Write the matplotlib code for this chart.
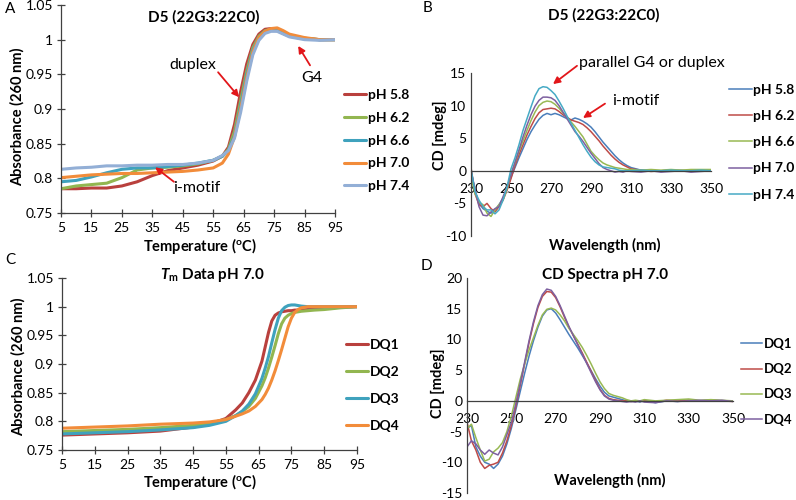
import numpy as np
import matplotlib
matplotlib.use('Agg')
import matplotlib.pyplot as plt
from matplotlib.ticker import FuncFormatter

plt.rcParams['font.family'] = ['Lato', 'DejaVu Sans']
plt.rcParams['axes.unicode_minus'] = False
plt.rcParams['mathtext.fontset'] = 'custom'
plt.rcParams['mathtext.rm'] = 'Lato'
plt.rcParams['mathtext.it'] = 'Lato:italic:bold'
plt.rcParams['mathtext.bf'] = 'Lato:bold'

#------- A: melting curves D5 at different pH
temp_a = [5, 10, 15, 20, 25, 30, 35, 40, 45, 50, 55, 58, 60, 62, 64, 66, 68, 70, 72, 74, 76, 78, 80, 85, 90, 95]
ph_labels = ['pH 5.8', 'pH 6.2', 'pH 6.6', 'pH 7.0', 'pH 7.4']
abs_ph58 = [0.785, 0.785, 0.786, 0.786, 0.789, 0.795, 0.804, 0.811, 0.815, 0.819, 0.825, 0.832, 0.845, 0.878, 0.925, 0.965, 0.993, 1.008, 1.015, 1.016, 1.013, 1.009, 1.006, 1.002, 1.000, 1.000]
abs_ph62 = [0.785, 0.789, 0.791, 0.793, 0.801, 0.812, 0.815, 0.816, 0.818, 0.821, 0.826, 0.832, 0.842, 0.868, 0.912, 0.955, 0.988, 1.005, 1.013, 1.015, 1.014, 1.010, 1.006, 1.002, 1.000, 1.000]
abs_ph66 = [0.795, 0.797, 0.802, 0.808, 0.813, 0.815, 0.815, 0.817, 0.819, 0.822, 0.826, 0.832, 0.840, 0.862, 0.905, 0.950, 0.985, 1.003, 1.012, 1.014, 1.013, 1.009, 1.005, 1.001, 1.000, 1.000]
abs_ph70 = [0.801, 0.803, 0.805, 0.806, 0.807, 0.807, 0.808, 0.809, 0.810, 0.812, 0.815, 0.822, 0.835, 0.860, 0.900, 0.945, 0.982, 1.003, 1.012, 1.016, 1.017, 1.013, 1.008, 1.003, 1.000, 1.000]
abs_ph74 = [0.813, 0.815, 0.816, 0.818, 0.818, 0.819, 0.819, 0.820, 0.820, 0.822, 0.826, 0.833, 0.840, 0.858, 0.895, 0.940, 0.978, 0.999, 1.009, 1.012, 1.012, 1.008, 1.004, 1.000, 0.999, 1.000]

#------- B: CD spectra D5 at different pH
wl = [230, 232, 234, 236, 238, 240, 242, 244, 246, 248, 250, 252, 254, 256, 258, 260, 262, 264, 266, 268,
      270, 272, 274, 276, 278, 280, 282, 284, 286, 288, 290, 292, 294, 296, 298, 300, 302, 304, 306, 308,
      310, 315, 320, 325, 330, 335, 340, 345, 350]
cd_ph58 = [0.0, -3.0, -5.0, -5.8, -6.2, -6.5, -6.0, -5.2, -4.2, -2.8, -1.0, 0.5, 2.0, 3.4, 4.8, 6.0, 7.0, 7.9, 8.5, 8.8,
           8.6, 8.8, 8.6, 8.3, 8.0, 7.8, 8.1, 7.9, 7.6, 7.2, 6.7, 6.0, 5.2, 4.4, 3.7, 3.0, 2.3, 1.7, 1.2, 0.8,
           0.5, 0.1, 0.1, -0.1, 0.0, 0.1, 0.0, 0.1, 0.0]
cd_ph62 = [0.5, -3.5, -5.2, -5.5, -5.0, -5.8, -6.3, -5.5, -4.5, -3.0, -1.2, 0.8, 2.5, 4.0, 5.5, 6.8, 8.0, 8.9, 9.4, 9.5,
           9.6, 9.5, 9.1, 8.6, 8.2, 7.8, 7.6, 7.4, 7.1, 6.6, 6.0, 5.3, 4.6, 3.8, 3.1, 2.4, 1.8, 1.3, 0.9, 0.6,
           0.3, 0.1, -0.1, 0.0, 0.1, 0.0, -0.1, 0.0, 0.1]
cd_ph66 = [-1.0, -3.5, -4.8, -5.2, -6.5, -7.0, -6.0, -5.2, -4.5, -2.8, -0.4, 1.2, 3.0, 4.6, 6.2, 7.7, 9.0, 10.0, 10.5, 10.7,
           10.6, 10.2, 9.6, 8.9, 8.2, 7.5, 6.8, 6.0, 5.2, 4.1, 3.0, 2.3, 1.7, 1.2, 0.9, 0.7, 0.5, 0.4, 0.3, 0.2,
           0.2, 0.1, 0.2, 0.1, 0.2, 0.1, 0.2, 0.2, 0.2]
cd_ph70 = [0.0, -2.8, -5.5, -6.8, -6.9, -6.3, -5.8, -5.5, -4.0, -2.5, -0.6, 1.3, 3.2, 5.2, 7.0, 8.6, 9.9, 10.8, 11.3, 11.3,
           11.2, 10.8, 10.0, 9.0, 8.0, 7.0, 6.0, 5.3, 4.5, 3.6, 2.7, 1.9, 1.1, 0.5, 0.2, 0.0, -0.2, -0.1, -0.2, 0.0,
           -0.1, -0.2, 0.0, -0.2, -0.1, 0.0, -0.2, -0.1, 0.0]
cd_ph74 = [0.3, -3.2, -4.5, -5.5, -6.0, -6.0, -6.6, -6.0, -4.5, -2.5, 0.3, 2.0, 4.0, 6.2, 8.0, 9.8, 11.5, 12.6, 12.9, 12.8,
           12.3, 11.7, 10.7, 9.6, 8.4, 7.3, 6.2, 5.1, 4.0, 3.0, 2.1, 1.4, 0.9, 0.6, 0.5, 0.4, 0.3, 0.1, 0.0, 0.0,
           0.0, 0.1, 0.0, 0.0, 0.1, 0.0, 0.0, 0.1, 0.0]

#------- C: melting curves pH 7.0
temp_c = [5, 15, 25, 35, 45, 50, 55, 58, 60, 62, 64, 66, 67, 68, 69, 70, 71, 72, 73, 74, 75, 76, 77, 78, 80, 82, 85, 90, 95]
dq_labels = ['DQ1', 'DQ2', 'DQ3', 'DQ4']
abs_dq1 = [0.776, 0.778, 0.780, 0.783, 0.790, 0.795, 0.805, 0.820, 0.832, 0.850, 0.872, 0.905, 0.930, 0.955, 0.975, 0.985, 0.989, 0.991, 0.992, 0.993, 0.993, 0.994, 0.994, 0.994, 0.995, 0.996, 0.997, 0.999, 1.000]
abs_dq2 = [0.782, 0.784, 0.786, 0.789, 0.793, 0.797, 0.803, 0.810, 0.817, 0.826, 0.840, 0.862, 0.876, 0.893, 0.912, 0.932, 0.953, 0.970, 0.980, 0.985, 0.988, 0.990, 0.991, 0.992, 0.993, 0.994, 0.995, 0.998, 1.000]
abs_dq3 = [0.778, 0.780, 0.782, 0.785, 0.789, 0.793, 0.800, 0.810, 0.818, 0.830, 0.848, 0.875, 0.893, 0.913, 0.937, 0.960, 0.980, 0.993, 0.999, 1.002, 1.003, 1.003, 1.002, 1.001, 1.000, 1.000, 1.000, 1.000, 1.000]
abs_dq4 = [0.788, 0.790, 0.792, 0.795, 0.797, 0.799, 0.803, 0.809, 0.813, 0.818, 0.826, 0.838, 0.847, 0.858, 0.872, 0.888, 0.906, 0.925, 0.945, 0.965, 0.980, 0.990, 0.995, 0.998, 1.000, 1.000, 1.000, 1.000, 1.000]

#------- D: CD spectra pH 7.0
cd_dq1 = [-4.5, -4.0, -7.5, -9.0, -10.0, -10.3, -11.0, -10.3, -9.0, -7.0, -4.5, -1.5, 1.5, 4.5, 7.3, 9.8, 12.0, 13.8, 14.8, 15.0,
          14.3, 13.2, 12.0, 10.8, 9.7, 8.6, 7.4, 6.2, 4.9, 3.6, 2.4, 1.4, 0.8, 0.6, 0.4, 0.2, 0.0, -0.1, 0.0, -0.2,
          0.1, -0.3, 0.0, -0.1, 0.1, 0.0, 0.1, 0.0, 0.0]
cd_dq2 = [-3.5, -6.5, -8.0, -10.0, -11.0, -10.5, -10.3, -10.0, -8.5, -6.5, -4.0, -1.0, 2.5, 6.0, 9.5, 12.6, 15.2, 17.0, 17.8, 17.7,
          16.8, 15.3, 13.6, 12.0, 10.6, 9.2, 7.8, 6.3, 4.8, 3.3, 1.9, 0.9, 0.4, 0.2, 0.1, 0.0, 0.0, -0.1, 0.0, -0.1,
          0.0, -0.2, 0.1, 0.0, 0.1, 0.0, 0.1, 0.0, -0.1]
cd_dq3 = [-4.5, -3.8, -6.0, -8.0, -9.8, -9.5, -8.3, -7.7, -6.8, -5.0, -2.5, 0.5, 3.5, 6.0, 8.3, 10.3, 12.3, 14.0, 14.9, 15.1,
          14.8, 14.0, 13.0, 11.8, 10.8, 9.8, 8.7, 7.4, 6.0, 4.5, 3.1, 2.0, 1.2, 0.9, 0.7, 0.5, 0.2, 0.0, 0.1, 0.0,
          0.2, 0.0, 0.1, 0.2, 0.3, 0.1, 0.2, 0.1, 0.0]
cd_dq4 = [-7.5, -6.5, -7.0, -8.0, -8.7, -8.0, -8.5, -8.8, -7.5, -5.5, -3.5, -0.5, 2.8, 6.3, 9.8, 12.9, 15.5, 17.3, 18.2, 18.0,
          17.0, 15.5, 13.8, 12.1, 10.6, 9.1, 7.6, 6.1, 4.6, 3.1, 1.8, 0.8, 0.3, 0.1, 0.0, -0.1, -0.2, -0.1, -0.2, 0.0,
          -0.2, -0.3, 0.0, -0.1, 0.0, 0.1, 0.0, 0.1, -0.1]

thick_colors = ['#B9403D', '#92B650', '#3FA2BD', '#F28C3A', '#93AFD6']
thin_colors = ['#4A7EBB', '#BE4B48', '#98B954', '#7D60A0', '#46AAC5']
arrow_red = '#E2161A'

W, H = 796, 500
fig = plt.figure(figsize=(W / 100, H / 100), dpi=100)


def px_axes(l, t, r, b):
    return fig.add_axes([l / W, 1 - b / H, (r - l) / W, (b - t) / H])


def fx(x):
    return x / W


def fy(y):
    return 1 - y / H


gfmt = FuncFormatter(lambda v, p: '%g' % round(v, 3))


def style_melt(ax):
    for s in ['top', 'right']:
        ax.spines[s].set_visible(False)
    for s in ['left', 'bottom']:
        ax.spines[s].set_color('#404040')
        ax.spines[s].set_linewidth(0.9)
    ax.set_xlim(5, 95)
    ax.set_ylim(0.75, 1.05)
    ax.set_xticks(np.arange(5, 96, 10))
    ax.set_yticks(np.arange(0.75, 1.051, 0.05))
    ax.yaxis.set_major_formatter(gfmt)
    ax.tick_params(direction='inout', length=6, width=0.9, color='#404040', labelsize=10)
    ax.tick_params(axis='x', pad=3.8)
    ax.tick_params(axis='y', pad=2.5)


def style_cd(ax, ymin, ymax):
    for s in ['top', 'right']:
        ax.spines[s].set_visible(False)
    ax.spines['bottom'].set_position(('data', 0))
    for s in ['left', 'bottom']:
        ax.spines[s].set_color('#404040')
        ax.spines[s].set_linewidth(0.9)
    ax.set_xlim(230, 350)
    ax.set_ylim(ymin, ymax)
    ax.set_xticks(np.arange(230, 351, 20))
    ax.set_yticks(np.arange(ymin, ymax + 1, 5))
    ax.tick_params(length=0, labelsize=10)
    ax.tick_params(axis='x', pad=9)


arrow_kw = dict(arrowstyle='-|>', color=arrow_red, lw=1.3, mutation_scale=10, shrinkA=0, shrinkB=0)

#------- A
ax1 = px_axes(61, 5, 335, 213)
for vals, c, lab in zip([abs_ph58, abs_ph62, abs_ph66, abs_ph70, abs_ph74], thick_colors, ph_labels):
    ax1.plot(temp_a, vals, color=c, lw=2.2, label=lab, solid_capstyle='round')
style_melt(ax1)
ax1.legend(loc='upper left', bbox_to_anchor=(fx(344), fy(89)), bbox_transform=fig.transFigure,
           frameon=False, prop={'weight': 'bold', 'size': 10}, handlelength=1.6, handletextpad=0.1,
           labelspacing=0.78, borderpad=0, borderaxespad=0)
ax1.text(48.4, 0.963, 'duplex', fontsize=11.5, ha='center', va='center')
ax1.annotate('', xy=(63.5, 0.917), xytext=(56.6, 0.953), arrowprops=arrow_kw)
ax1.text(87.5, 0.945, 'G4', fontsize=11.5, ha='center', va='center')
ax1.annotate('', xy=(82.9, 0.991), xytext=(86.8, 0.963), arrowprops=arrow_kw)
ax1.text(49.7, 0.786, 'i-motif', fontsize=11.5, ha='center', va='center')
ax1.annotate('', xy=(35.9, 0.816), xytext=(42.1, 0.795), arrowprops=arrow_kw)
fig.text(fx(204), fy(17), 'D5 (22G3:22C0)', ha='center', va='center', fontsize=11, weight='bold')
fig.text(fx(200), fy(246), r'Temperature ($\mathregular{^o}$C)', ha='center', va='center', fontsize=10.5, weight='bold')
fig.text(fx(17), fy(117), 'Absorbance (260 nm)', ha='center', va='center', rotation=90, fontsize=10.5, weight='bold')
fig.text(fx(5), fy(9), 'A', ha='left', va='center', fontsize=11)

#------- B
ax2 = px_axes(471, 73, 711, 236)
for vals, c, lab in zip([cd_ph58, cd_ph62, cd_ph66, cd_ph70, cd_ph74], thin_colors, ph_labels):
    ax2.plot(wl, vals, color=c, lw=1.1, label=lab)
style_cd(ax2, -10, 15)
ax2.legend(loc='upper left', bbox_to_anchor=(fx(729), fy(84)), bbox_transform=fig.transFigure,
           frameon=False, prop={'weight': 'bold', 'size': 10}, handlelength=1.65, handletextpad=0.1,
           labelspacing=1.02, borderpad=0, borderaxespad=0)
ax2.text(320.5, 16.6, 'parallel G4 or duplex', fontsize=11.5, ha='center', va='center', clip_on=False)
ax2.annotate('', xy=(271, 13.3), xytext=(283, 16.1), annotation_clip=False, arrowprops=arrow_kw)
ax2.text(312.5, 10.7, 'i-motif', fontsize=11.5, ha='center', va='center')
ax2.annotate('', xy=(286, 8.1), xytext=(297, 10.3), arrowprops=arrow_kw)
fig.text(fx(604), fy(15), 'D5 (22G3:22C0)', ha='center', va='center', fontsize=11, weight='bold')
fig.text(fx(605), fy(245), 'Wavelength (nm)', ha='center', va='center', fontsize=10.5, weight='bold')
fig.text(fx(440), fy(135), 'CD [mdeg]', ha='center', va='center', rotation=90, fontsize=10.5, weight='bold')
fig.text(fx(423), fy(8), 'B', ha='left', va='center', fontsize=11)

#------- C
ax3 = px_axes(62, 278, 357, 450)
for vals, c, lab in zip([abs_dq1, abs_dq2, abs_dq3, abs_dq4], thick_colors, dq_labels):
    ax3.plot(temp_c, vals, color=c, lw=2.2, label=lab, solid_capstyle='round')
style_melt(ax3)
ax3.legend(loc='upper left', bbox_to_anchor=(fx(346), fy(339)), bbox_transform=fig.transFigure,
           frameon=False, prop={'weight': 'bold', 'size': 10}, handlelength=1.6, handletextpad=0.1,
           labelspacing=1.07, borderpad=0, borderaxespad=0)
fig.text(fx(213), fy(275), r'$T_{\mathregular{m}}$ Data pH 7.0', ha='center', va='center', fontsize=11, weight='bold')
fig.text(fx(200), fy(482), r'Temperature ($\mathregular{^o}$C)', ha='center', va='center', fontsize=10.5, weight='bold')
fig.text(fx(18), fy(367), 'Absorbance (260 nm)', ha='center', va='center', rotation=90, fontsize=10.5, weight='bold')
fig.text(fx(5), fy(260), 'C', ha='left', va='center', fontsize=11)

#------- D
ax4 = px_axes(467, 278, 733, 493)
for vals, c, lab in zip([cd_dq1, cd_dq2, cd_dq3, cd_dq4], thin_colors, dq_labels):
    ax4.plot(wl, vals, color=c, lw=1.1, label=lab)
style_cd(ax4, -15, 20)
ax4.legend(loc='upper left', bbox_to_anchor=(fx(741), fy(338)), bbox_transform=fig.transFigure,
           frameon=False, prop={'weight': 'bold', 'size': 9.5}, handlelength=1.6, handletextpad=0.1,
           labelspacing=1.0, borderpad=0, borderaxespad=0)
fig.text(fx(605), fy(275), 'CD Spectra pH 7.0', ha='center', va='center', fontsize=11, weight='bold')
fig.text(fx(610), fy(480), 'Wavelength (nm)', ha='center', va='center', fontsize=10.5, weight='bold')
fig.text(fx(438), fy(383), 'CD [mdeg]', ha='center', va='center', rotation=90, fontsize=10.5, weight='bold')
fig.text(fx(421), fy(266), 'D', ha='left', va='center', fontsize=11)

fig.savefig('out.png', dpi=100)
